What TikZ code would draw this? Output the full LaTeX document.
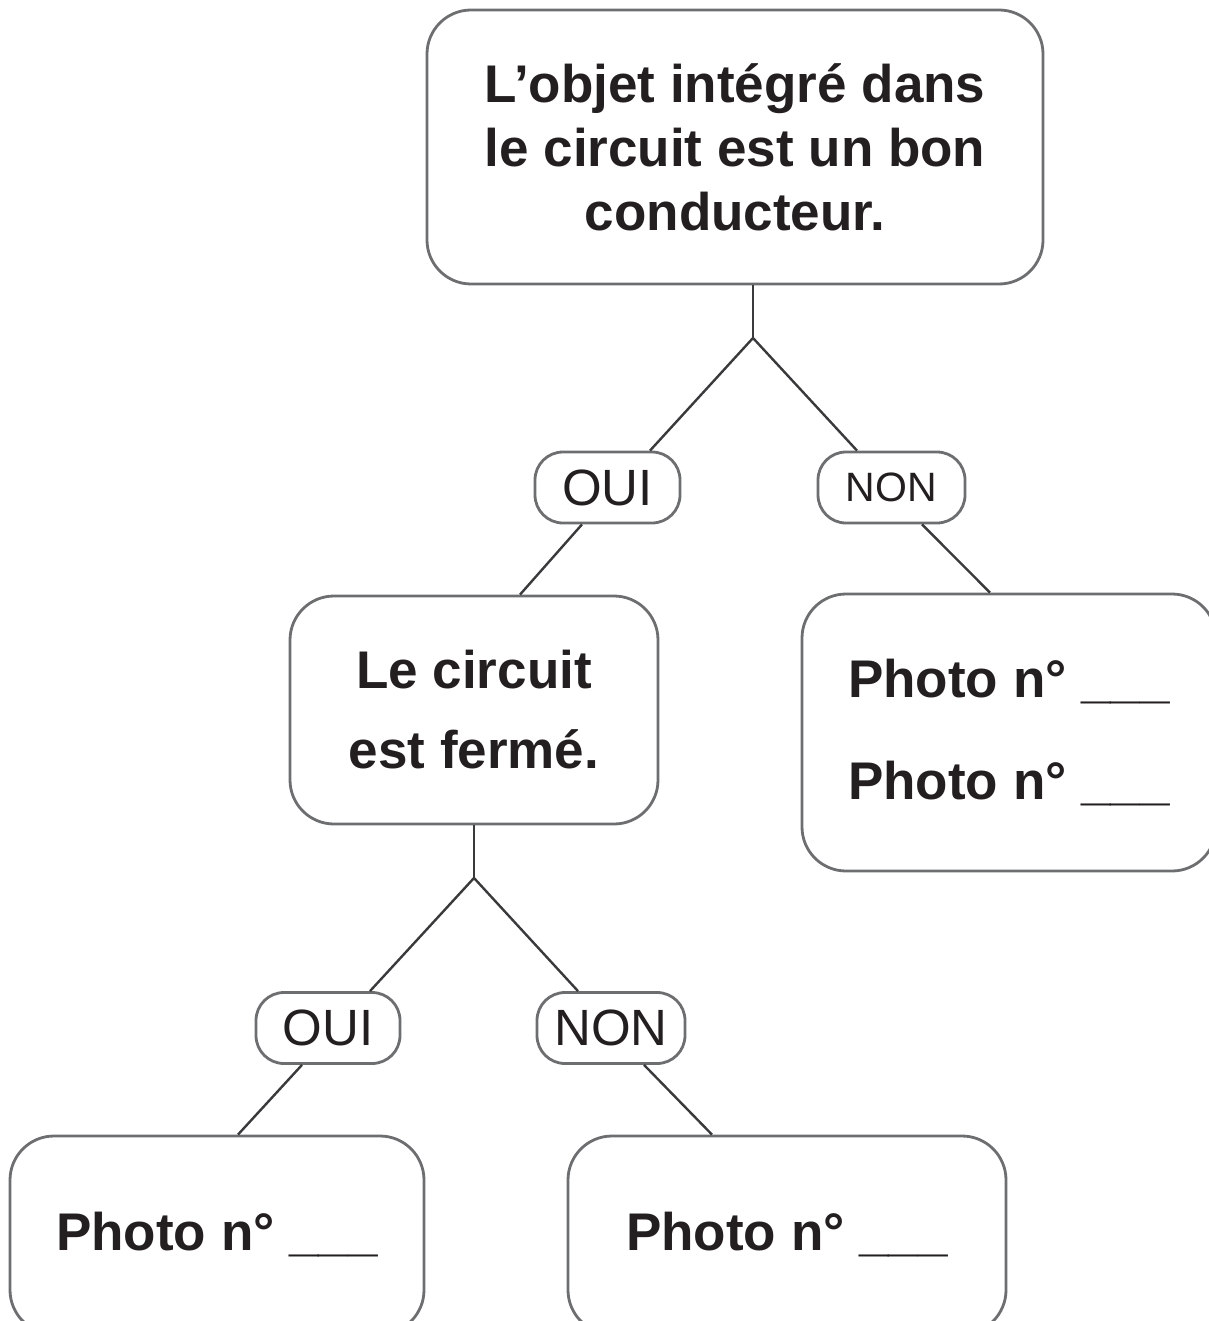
\documentclass[tikz,border=0pt]{standalone}
\usepackage{fontspec}
\setmainfont{Liberation Sans}
\definecolor{ink}{HTML}{231F20}
\definecolor{frame}{HTML}{6D6E70}
\definecolor{wire}{HTML}{3A3A3C}
\begin{document}
\begin{tikzpicture}[x=1pt,y=-1pt,
  every node/.style={text=ink},
  box/.style={draw=frame, line width=2.8pt, rounded corners=44pt, align=center, inner sep=0pt},
  pill/.style={draw=frame, line width=2.8pt, rounded corners=28pt, inner sep=0pt, minimum height=71pt},
  link/.style={draw=wire, line width=2.4pt}]
\useasboundingbox (0,0) rectangle (1208,1321);

% question boxes
\node[box, minimum width=616pt, minimum height=274pt, font=\fontsize{53}{64}\selectfont\bfseries]
  (q1) at (735,147) {L’objet intégré dans\\le circuit est un bon\\conducteur.};
\node[box, minimum width=368pt, minimum height=228pt, font=\fontsize{53}{80}\selectfont\bfseries]
  (q2) at (474,710) {Le circuit\\est fermé.};

% answer labels
\node[pill, minimum width=145pt, font=\fontsize{51}{51}\selectfont] (oui1) at (607.5,487.5) {OUI};
\node[pill, minimum width=147pt, font=\fontsize{41}{41}\selectfont] (non1) at (891.5,487.5) {NON};
\node[pill, minimum width=144pt, font=\fontsize{51}{51}\selectfont] (oui2) at (328,1028) {OUI};
\node[pill, minimum width=148pt, font=\fontsize{51}{51}\selectfont] (non2) at (611,1028) {NON};

% result boxes
\node[box, minimum width=414pt, minimum height=277pt, font=\fontsize{53}{102}\selectfont\bfseries]
  (r1) at (1009,732.5) {Photo n° \_\_\_\\Photo n° \_\_\_};
\node[box, minimum width=414pt, minimum height=198pt, font=\fontsize{53}{64}\selectfont\bfseries]
  (bl) at (217,1235) {Photo n° \_\_\_};
\node[box, minimum width=438pt, minimum height=198pt, font=\fontsize{53}{64}\selectfont\bfseries]
  (br) at (787,1235) {Photo n° \_\_\_};

% branches
\coordinate (j1) at (753,338);
\coordinate (j2) at (474,878);
\draw[link] (q1.south -| j1) -- (j1);
\draw[link] (j1) -- ([xshift=42.5pt]oui1.north);
\draw[link] (j1) -- ([xshift=-34.5pt]non1.north);
\draw[link] ([xshift=-25.5pt]oui1.south) -- ([xshift=46pt]q2.north);
\draw[link] ([xshift=30.5pt]non1.south) -- ([xshift=-19pt]r1.north);
\draw[link] (q2.south) -- (j2);
\draw[link] (j2) -- ([xshift=42pt]oui2.north);
\draw[link] (j2) -- ([xshift=-33pt]non2.north);
\draw[link] ([xshift=-26pt]oui2.south) -- ([xshift=21pt]bl.north);
\draw[link] ([xshift=33pt]non2.south) -- ([xshift=-75pt]br.north);
\end{tikzpicture}
\end{document}
